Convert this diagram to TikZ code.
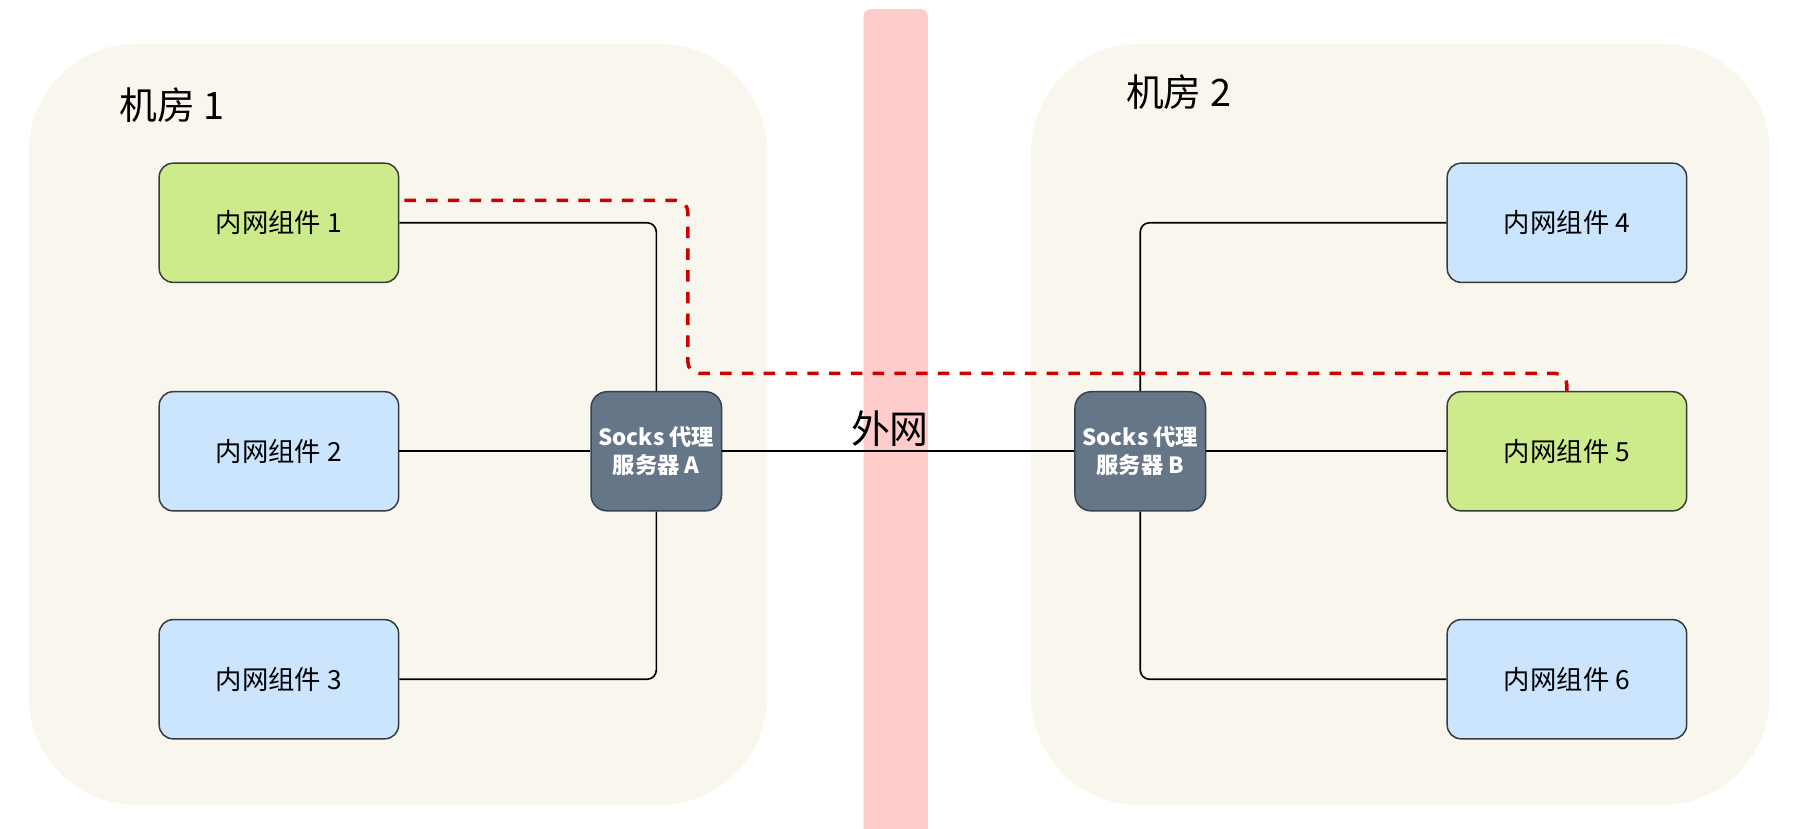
\documentclass[tikz,border=0pt]{standalone}
\usepackage{fontspec}
\setmainfont{Noto Sans CJK SC}
\definecolor{roomc}{HTML}{F9F7ED}
\definecolor{bandc}{HTML}{FFCCCC}
\definecolor{greenc}{HTML}{CDEB8B}
\definecolor{bluec}{HTML}{CCE5FF}
\definecolor{edgec}{HTML}{36393D}
\definecolor{sockc}{HTML}{647687}
\definecolor{sockedge}{HTML}{314354}
\definecolor{redc}{HTML}{CC0000}
\begin{document}
\begin{tikzpicture}[x=1pt,y=-1pt,
  room/.style={fill=roomc, rounded corners=95pt, minimum width=645pt, minimum height=665pt, inner sep=0pt},
  comp/.style={draw=edgec, line width=1.3pt, rounded corners=12pt, minimum width=209pt, minimum height=104pt, inner sep=0pt, font=\fontsize{23}{27}\selectfont},
  greenbox/.style={comp, fill=greenc},
  bluebox/.style={comp, fill=bluec},
  sockbox/.style={draw=sockedge, fill=sockc, line width=1.3pt, rounded corners=14pt, minimum width=114pt, minimum height=104pt, inner sep=0pt, text=white, align=center, font=\bfseries\fontsize{19.5}{24.5}\selectfont},
  conn/.style={line width=1.4pt, rounded corners=8pt},
  reddash/.style={draw=redc, line width=3pt, dash pattern=on 10pt off 9pt, rounded corners=10pt},
  title/.style={anchor=west, inner sep=0pt, font=\fontsize{33}{38}\selectfont}
]
\useasboundingbox (0,0) rectangle (1568,723);
\fill[white] (0,0) rectangle (1568,723);
\node[room] (room1) at (347.5,370.5) {};
\node[room] (room2) at (1222.5,370.5) {};
\fill[bandc, rounded corners=6pt] (754,8) rectangle (810,760);

\node[greenbox] (c1) at (243.5,194.5) {内网组件 1};
\node[bluebox]  (c2) at (243.5,394) {内网组件 2};
\node[bluebox]  (c3) at (243.5,593) {内网组件 3};
\node[sockbox]  (sa) at (573,394) {Socks 代理\\服务器 A};
\node[sockbox]  (sb) at (995.5,394) {Socks 代理\\服务器 B};
\node[bluebox]  (c4) at (1368,194.5) {内网组件 4};
\node[greenbox] (c5) at (1368,394) {内网组件 5};
\node[bluebox]  (c6) at (1368,593) {内网组件 6};

\draw[conn] (c1.east) -| (sa.north);
\draw[conn] (c2.east) -- (sa.west);
\draw[conn] (c3.east) -| (sa.south);
\draw[conn] (sa.east) -- (sb.west);
\draw[conn] (sb.north) |- (c4.west);
\draw[conn] (sb.east) -- (c5.west);
\draw[conn] (sb.south) |- (c6.west);

\coordinate (r0) at (353,175);
\draw[reddash] (r0) -| (600.5,326) -| (c5.north);

\node[title] (t1) at (104,92) {机房 1};
\node[title] (t2) at (983,80) {机房 2};
\node[inner sep=0pt, font=\fontsize{34}{38}\selectfont] (wan) at (777,374) {外网};
\end{tikzpicture}
\end{document}
